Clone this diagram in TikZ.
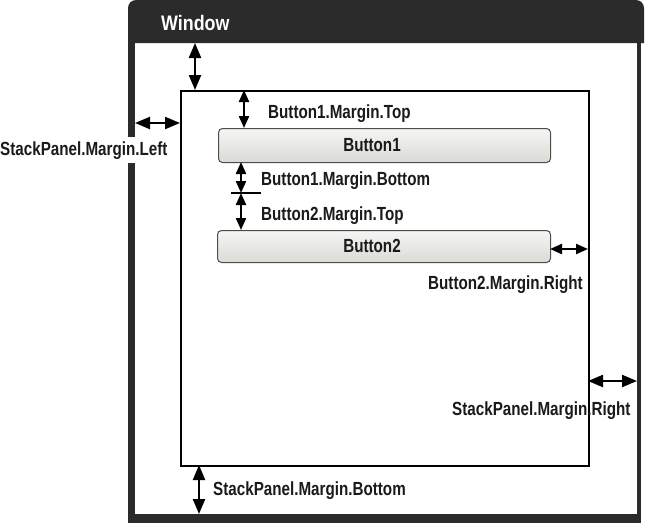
\documentclass[tikz,border=0pt]{standalone}
\usepackage{fontspec}
\setmainfont{Liberation Sans}
\newfontfamily\labfont[FakeStretch=0.8]{Liberation Sans Bold}
\newfontfamily\ttlfont[FakeStretch=0.85]{Liberation Sans Bold}
\usetikzlibrary{arrows.meta}
\definecolor{winc}{HTML}{2B2B2B}
\definecolor{btntop}{HTML}{F5F5F3}
\definecolor{btnbot}{HTML}{DADAD6}
\definecolor{labc}{HTML}{1A1A1A}
\tikzset{
  lab/.style={inner sep=0pt, anchor=base west, text=labc, font=\labfont\fontsize{19}{21}\selectfont},
  dimarr/.style={line width=2.2pt, {Triangle[length=15pt,width=12pt]}-{Triangle[length=15pt,width=12pt]}},
  shortarr/.style={line width=2.2pt, {Triangle[length=12pt,width=10pt]}-{Triangle[length=12pt,width=10pt]}},
  btn/.style={draw=black!70, line width=1pt, rounded corners=4pt, top color=btntop, bottom color=btnbot, anchor=north west, inner sep=0pt},
  panelbox/.style={draw=black, line width=1.5pt, anchor=north west, inner sep=0pt, minimum width=408pt, minimum height=375pt},
  frame/.style={fill=winc}
}
\begin{document}
\begin{tikzpicture}[x=1pt,y=-1pt]
\useasboundingbox (0,0) rectangle (646,523);
% window frame
\fill[frame] (128,43) {[rounded corners=8pt] -- (128,0) -- (644,0)} -- (644,43) -- cycle;
\fill[frame] (128,42) rectangle (135,137);
\fill[frame] (128,163) rectangle (135,523);
\fill[frame] (128,514) rectangle (641,523);
\fill[frame] (637,42) rectangle (641,523);
\node[inner sep=0pt, anchor=base west, text=white, font=\ttlfont\fontsize{21}{23}\selectfont] (wtitle) at (161,30) {Window};
% stack panel
\node[panelbox] (panel) at (180,90) {};
% buttons
\node[btn, minimum width=332pt, minimum height=34pt] (b1) at (218,128) {};
\node[btn, minimum width=333pt, minimum height=32pt] (b2) at (217,230) {};
\node[lab, anchor=center] (b1t) at (372,145) {Button1};
\node[lab, anchor=center] (b2t) at (372,246) {Button2};
% coordinates
\coordinate (tbot) at (195,43);
\coordinate (ptop) at (195,90);
\coordinate (lwin) at (135,123);
\coordinate (lpan) at (180,123);
\coordinate (b1ta) at (244,90);
\coordinate (b1tb) at (244,128);
\coordinate (b1ba) at (241,162);
\coordinate (tick) at (241,193);
\coordinate (tickl) at (231,193);
\coordinate (tickr) at (261,193);
\coordinate (b2ta) at (241,230);
\coordinate (b2ra) at (550,249);
\coordinate (b2rb) at (588,249);
\coordinate (spra) at (588,381);
\coordinate (sprb) at (637,381);
\coordinate (spba) at (199,465);
\coordinate (spbb) at (199,514);
% dimension arrows
\draw[dimarr] (tbot) -- (ptop);
\draw[dimarr] (lwin) -- (lpan);
\draw[shortarr] (b1ta) -- (b1tb);
\draw[shortarr] (b1ba) -- (tick);
\draw[line width=1.5pt] (tickl) -- (tickr);
\draw[shortarr] (tick) -- (b2ta);
\draw[shortarr] (b2ra) -- (b2rb);
\draw[dimarr] (spra) -- (sprb);
\draw[dimarr] (spba) -- (spbb);
% labels
\node[lab] (l1) at (268,118) {Button1.Margin.Top};
\node[lab] (l2) at (261,185) {Button1.Margin.Bottom};
\node[lab] (l3) at (261,220) {Button2.Margin.Top};
\node[lab] (l4) at (428,289) {Button2.Margin.Right};
\node[lab] (l5) at (0,155) {StackPanel.Margin.Left};
\node[lab] (l6) at (452,415) {StackPanel.Margin.Right};
\node[lab] (l7) at (213,495) {StackPanel.Margin.Bottom};
\end{tikzpicture}
\end{document}
